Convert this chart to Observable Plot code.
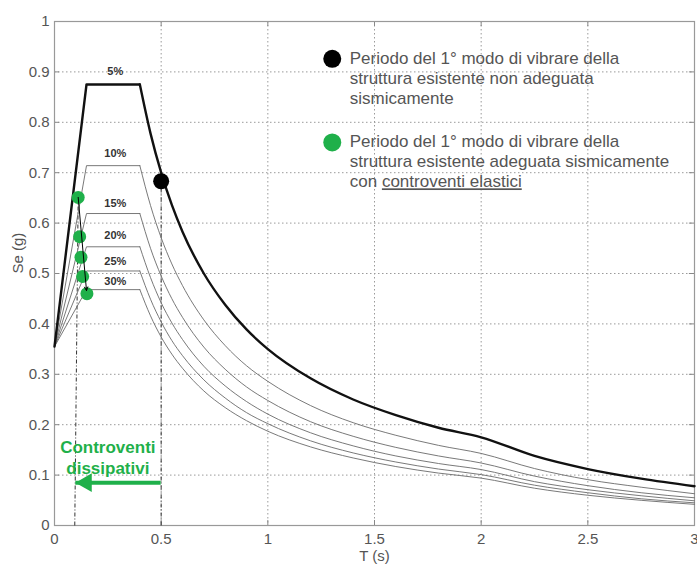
<!DOCTYPE html>
<html>
<head>
<meta charset="utf-8">
<script src="https://cdn.jsdelivr.net/npm/d3@7"></script>
<script src="https://cdn.jsdelivr.net/npm/@observablehq/plot@0.6"></script>
<style>
  html, body { margin: 0; padding: 0; background: #fff; }
  #chart { width: 697px; height: 564px; overflow: hidden; }
</style>
</head>
<body>
<div id="chart"></div>
<script>
// ---- data ----
const periods = [0, 0.15, 0.4, 0.45, 0.5, 0.55, 0.6, 0.7, 0.8, 0.9, 1.0, 1.2, 1.4, 1.6, 1.8, 2.0, 2.25, 2.5, 2.75, 3.0];
const dampingLabels = ["5%", "10%", "15%", "20%", "25%", "30%"];
const se5  = [0.355, 0.875, 0.875, 0.778, 0.700, 0.636, 0.583, 0.500, 0.438, 0.389, 0.350, 0.292, 0.250, 0.219, 0.194, 0.175, 0.138, 0.112, 0.093, 0.078];
const se10 = [0.355, 0.714, 0.714, 0.635, 0.571, 0.519, 0.476, 0.408, 0.357, 0.317, 0.286, 0.238, 0.204, 0.179, 0.159, 0.143, 0.113, 0.091, 0.076, 0.063];
const se15 = [0.355, 0.619, 0.619, 0.550, 0.495, 0.450, 0.413, 0.354, 0.310, 0.275, 0.248, 0.206, 0.177, 0.155, 0.138, 0.124, 0.098, 0.079, 0.065, 0.055];
const se20 = [0.355, 0.553, 0.553, 0.492, 0.442, 0.402, 0.369, 0.316, 0.277, 0.246, 0.221, 0.184, 0.158, 0.138, 0.123, 0.111, 0.087, 0.071, 0.059, 0.049];
const se25 = [0.355, 0.505, 0.505, 0.449, 0.404, 0.367, 0.337, 0.289, 0.253, 0.224, 0.202, 0.168, 0.144, 0.126, 0.112, 0.101, 0.080, 0.065, 0.053, 0.045];
const se30 = [0.355, 0.468, 0.468, 0.416, 0.374, 0.340, 0.312, 0.267, 0.234, 0.208, 0.187, 0.156, 0.134, 0.117, 0.104, 0.094, 0.074, 0.060, 0.050, 0.042];
const seriesValues = [se5, se10, se15, se20, se25, se30];
const plateauEndT = 0.4;

// curve labels
const labelT = [0.285, 0.285, 0.285, 0.285, 0.285, 0.285];
const labelSe = [0.901, 0.739, 0.639, 0.575, 0.524, 0.484];

// first-mode periods
const blackT = [0.5];
const blackSe = [0.683];
const greenT = [0.111, 0.118, 0.124, 0.132, 0.152];
const greenSe = [0.651, 0.573, 0.532, 0.494, 0.460];

// guide lines / arrows
const guideFromT = [0.095, 0.5];
const guideToT = [0.111, 0.5];
const guideToSe = [0.651, 0.683];
const dropFrom = {T: 0.111, Se: 0.651};
const dropTo = {T: 0.150, Se: 0.466};
const shiftFromT = 0.5;
const shiftToT = 0.1;
const shiftSe = 0.085;
const shiftText = "Controventi\ndissipativi";
const shiftTextT = 0.25;
const shiftTextSe = 0.136;

// legend
const legendT = 1.302;
const legendSe = [0.926, 0.760];
const legendText = [
  "Periodo del 1° modo di vibrare della\nstruttura esistente non adeguata\nsismicamente",
  "Periodo del 1° modo di vibrare della\nstruttura esistente adeguata sismicamente\ncon controventi elastici"
];

// axes
const xTicks = [0, 0.5, 1, 1.5, 2, 2.5, 3];
const xTickLabels = ["0", "0.5", "1", "1.5", "2", "2.5", "3"];
const yTicks = [0, 0.1, 0.2, 0.3, 0.4, 0.5, 0.6, 0.7, 0.8, 0.9, 1];
const yTickLabels = ["0", "0.1", "0.2", "0.3", "0.4", "0.5", "0.6", "0.7", "0.8", "0.9", "1"];
const xLabel = "T (s)";
const yLabel = "Se (g)";

// ---- build tables ----
const rows = [];
dampingLabels.forEach((d, k) => {
  periods.forEach((t, i) => rows.push({damping: d, T: t, Se: seriesValues[k][i]}));
});
const riseRows = rows.filter(r => r.T <= plateauEndT);
const decayRows = rows.filter(r => r.T >= plateauEndT);
const labels = dampingLabels.map((d, i) => ({text: d, T: labelT[i], Se: labelSe[i]}));
const greens = greenT.map((t, i) => ({T: t, Se: greenSe[i]}));
const blacks = blackT.map((t, i) => ({T: t, Se: blackSe[i]}));
const guides = guideFromT.map((t, i) => ({x1: t, x2: guideToT[i], y2: guideToSe[i]}));
const legends = legendText.map((txt, i) => ({text: txt, T: legendT, Se: legendSe[i]}));

const GREEN = "#1fb04a";
const FONT = "'Liberation Sans', Arial, Helvetica, sans-serif";
const thin = {x: "T", y: "Se", z: "damping", stroke: "#6a6a6a", strokeWidth: 0.9};
const thick = {x: "T", y: "Se", stroke: "#111", strokeWidth: 2.4, strokeLinejoin: "round"};

const chart = Plot.plot({
  width: 697,
  height: 564,
  marginTop: 21,
  marginRight: 3,
  marginBottom: 39,
  marginLeft: 54,
  x: {domain: [0, 3]},
  y: {domain: [0, 1]},
  style: {fontFamily: FONT, fontSize: "15px", color: "#555", background: "#fff", overflow: "visible"},
  marks: [
    Plot.gridX(xTicks, {stroke: "#9a9a9a", strokeOpacity: 1, strokeDasharray: "1.5,2.5", strokeWidth: 1}),
    Plot.gridY(yTicks, {stroke: "#9a9a9a", strokeOpacity: 1, strokeDasharray: "1.5,2.5", strokeWidth: 1}),
    // inward ticks (Matlab box style)
    Plot.ruleX(xTicks, {y1: 0, y2: 0.01, stroke: "#888"}),
    Plot.ruleX(xTicks, {y1: 0.99, y2: 1, stroke: "#888"}),
    Plot.ruleY(yTicks, {x1: 0, x2: 0.024, stroke: "#888"}),
    Plot.ruleY(yTicks, {x1: 2.976, x2: 3, stroke: "#888"}),
    Plot.frame({stroke: "#999", strokeWidth: 1.2}),
    Plot.axisX(xTicks, {tickSize: 0, tickPadding: 8, tickFormat: d => xTickLabels[xTicks.indexOf(d)], label: null, fill: "#555", fontSize: 15}),
    Plot.axisY(yTicks, {tickSize: 0, tickPadding: 5, tickFormat: d => yTickLabels[yTicks.indexOf(d)], label: null, fill: "#555", fontSize: 15}),
    Plot.text([yLabel], {frameAnchor: "left", dx: -36, rotate: -90, fontSize: 15, fill: "#555"}),
    Plot.text([xLabel], {frameAnchor: "bottom", dy: 25, lineAnchor: "top", fontSize: 15, fill: "#555"}),
    // guide dashed verticals
    Plot.link(guides, {x1: "x1", y1: 0, x2: "x2", y2: "y2", stroke: "#333", strokeWidth: 1, strokeDasharray: "4,2,1,2"}),
    // spectra: linear rise + plateau, smooth decay
    Plot.line(riseRows.filter(r => r.damping !== "5%"), thin),
    Plot.line(decayRows.filter(r => r.damping !== "5%"), {...thin, curve: "monotone-x"}),
    Plot.line(riseRows.filter(r => r.damping === "5%"), thick),
    Plot.line(decayRows.filter(r => r.damping === "5%"), {...thick, curve: "monotone-x"}),
    Plot.text(labels, {x: "T", y: "Se", text: "text", fontSize: 11, fontWeight: "bold", fill: "#333"}),
    // first-mode points
    Plot.dot(blacks, {x: "T", y: "Se", r: 8, fill: "#000", stroke: null}),
    Plot.dot(greens, {x: "T", y: "Se", r: 6.5, fill: GREEN, stroke: null}),
    Plot.arrow([{}], {x1: dropFrom.T, y1: dropFrom.Se, x2: dropTo.T, y2: dropTo.Se, stroke: "#000", strokeWidth: 1, headLength: 6, headAngle: 50}),
    // green shift arrow
    Plot.ruleY([shiftSe], {x1: shiftFromT, x2: shiftToT, stroke: GREEN, strokeWidth: 4}),
    Plot.dot([shiftToT], {x: d => d, y: shiftSe, symbol: "triangle", rotate: -90, r: 7, dx: 10.5, fill: GREEN, stroke: null}),
    Plot.text([shiftText], {x: shiftTextT, y: shiftTextSe, fontSize: 17, fontWeight: "bold", fill: GREEN, lineHeight: 1.2}),
    // legend
    Plot.dot(legends, {x: "T", y: "Se", r: 9, fill: (d, i) => i === 0 ? "#000" : GREEN, stroke: null}),
    Plot.text(legends, {x: "T", y: "Se", text: "text", dx: 17.5, dy: -9.5, textAnchor: "start", lineAnchor: "top", fontSize: 17, lineHeight: 1.18, fill: "#555"})
  ]
});

// underline "controventi elastici" in the legend
d3.select(chart).selectAll("tspan").each(function() {
  if (this.textContent === "con controventi elastici") {
    this.textContent = "con ";
    const ns = "http://www.w3.org/2000/svg";
    const u = document.createElementNS(ns, "tspan");
    u.textContent = "controventi elastici";
    u.setAttribute("text-decoration", "underline");
    u.style.textDecoration = "underline";
    this.appendChild(u);
  }
});

document.getElementById("chart").appendChild(chart);
</script>
</body>
</html>
